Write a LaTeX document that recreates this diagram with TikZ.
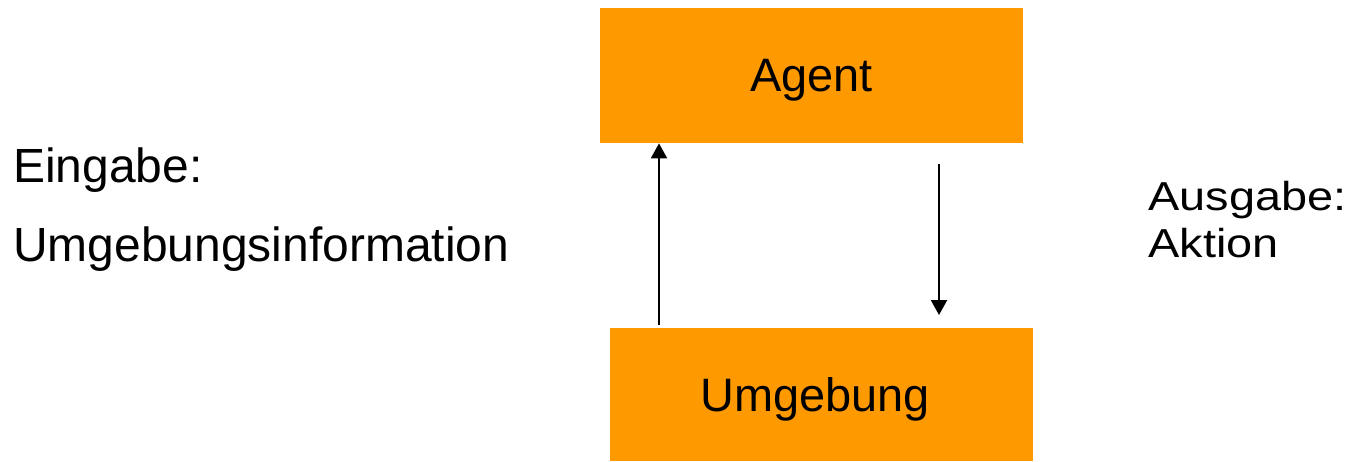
\documentclass[tikz,border=0pt]{standalone}
\usepackage{fontspec}
\setmainfont{Liberation Sans}
\usetikzlibrary{arrows.meta}
\newlength{\du}
\setlength{\du}{0.02cm}
\definecolor{boxorange}{RGB}{255,153,0}
\tikzset{
  block/.style={fill=boxorange, draw=none, inner sep=0pt, text depth=0pt,
    font=\fontsize{26.7}{30}\selectfont},
  infotext/.style={anchor=base west, inner sep=0pt,
    font=\fontsize{27.3}{31}\selectfont},
  sidetext/.style={anchor=base west, inner sep=0pt, xscale=1.16,
    font=\fontsize{23}{27}\selectfont},
  flow/.style={line width=1.1pt, -{Triangle[length=8.5pt,width=9.1pt]}}
}
\begin{document}
\begin{tikzpicture}
\pgftransformyscale{-1.000000}
\useasboundingbox (0\du,0\du) rectangle (1354\du,461\du);
% boxes
\node[block, minimum width=423\du, minimum height=135\du] (agent) at (811.5\du,75.5\du){Agent};
\node[block, minimum width=423\du, minimum height=133\du] (env) at (821.5\du,394.5\du){};
\node[block, fill=none] (envtext) at (815\du,394.5\du){Umgebung};
% arrows
\coordinate (upfrom) at (659\du,325\du);
\draw[flow] (upfrom)--(upfrom |- agent.south);
\coordinate (downfrom) at (939\du,164\du);
\coordinate (downto) at (939\du,315\du);
\draw[flow] (downfrom)--(downto);
% texts
\node[infotext] (inlabel) at (13\du,182\du){Eingabe:};
\node[infotext] (ininfo) at (13\du,261\du){Umgebungsinformation};
\node[sidetext] (outlabel) at (1148\du,210\du){Ausgabe:};
\node[sidetext] (outaction) at (1148\du,257\du){Aktion};
\end{tikzpicture}
\end{document}
